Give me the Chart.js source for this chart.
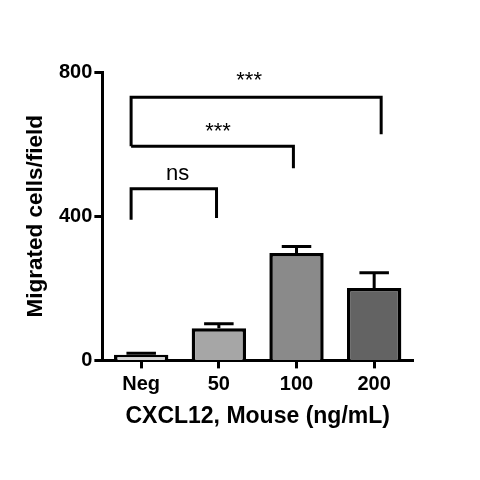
<!DOCTYPE html>
<html>
<head>
<meta charset="utf-8">
<script src="https://cdn.jsdelivr.net/npm/chart.js@4/dist/chart.umd.min.js"></script>
<style>
html,body{margin:0;padding:0;background:#fff;}
#wrap{width:480px;height:480px;}
</style>
</head>
<body>
<div id="wrap"><canvas id="c" width="480" height="480"></canvas></div>
<script>
// ---- data ----
const categories = ['Neg', '50', '100', '200'];
const means = [16, 89, 298, 201];
const errUpper = [20, 102, 316, 243];
const barColors = ['#d6d6d6', '#a6a6a6', '#8a8a8a', '#636363'];
const yTicks = [0, 400, 800];

// significance brackets (x in category index units)
const bracketStart = [-0.13, -0.13, -0.13];
const bracketEnd = [0.97, 1.96, 3.09];
const bracketLevel = [476, 594, 730];
const bracketLeftBase = [390, 594, 594];
const bracketRightBase = [395, 533, 627];
const sigLabels = ['ns', '***', '***'];
const sigX = [0.47, 0.99, 1.39];
const sigY = [518, 634, 776];

const capHalf = 0.19;

const annotations = {
  id: 'annotations',
  afterDatasetsDraw(chart) {
    const ctx = chart.ctx, xs = chart.scales.x, ys = chart.scales.y;
    ctx.save();
    ctx.strokeStyle = '#000';
    ctx.lineWidth = 3;
    ctx.lineCap = 'butt';
    ctx.lineJoin = 'miter';
    // error bars (upper only)
    means.forEach((m, i) => {
      const px = xs.getPixelForValue(i);
      const pTop = ys.getPixelForValue(errUpper[i]);
      ctx.beginPath();
      ctx.moveTo(px, ys.getPixelForValue(m));
      ctx.lineTo(px, pTop);
      ctx.moveTo(xs.getPixelForValue(i - capHalf), pTop);
      ctx.lineTo(xs.getPixelForValue(i + capHalf), pTop);
      ctx.stroke();
    });
    // brackets
    bracketStart.forEach((s, k) => {
      ctx.beginPath();
      ctx.moveTo(xs.getPixelForValue(s), ys.getPixelForValue(bracketLeftBase[k]));
      ctx.lineTo(xs.getPixelForValue(s), ys.getPixelForValue(bracketLevel[k]));
      ctx.lineTo(xs.getPixelForValue(bracketEnd[k]), ys.getPixelForValue(bracketLevel[k]));
      ctx.lineTo(xs.getPixelForValue(bracketEnd[k]), ys.getPixelForValue(bracketRightBase[k]));
      ctx.stroke();
    });
    // labels
    ctx.fillStyle = '#000';
    ctx.textAlign = 'center';
    ctx.textBaseline = 'middle';
    ctx.font = "22px 'Liberation Sans', Arial, sans-serif";
    sigLabels.forEach((t, k) => {
      ctx.fillText(t, xs.getPixelForValue(sigX[k]), ys.getPixelForValue(sigY[k]));
    });
    ctx.restore();
  }
};

Chart.defaults.font.family = "'Liberation Sans', Arial, sans-serif";
Chart.defaults.color = '#000';

new Chart(document.getElementById('c'), {
  type: 'bar',
  data: {
    labels: categories,
    datasets: [{
      data: means, backgroundColor: barColors, borderColor: '#000',
      borderWidth: 3.5, categoryPercentage: 1, barPercentage: 0.7
    }]
  },
  options: {
    responsive: false,
    animation: false,
    devicePixelRatio: 1,
    layout: {padding: {left: 18, right: 67, top: 72, bottom: 46}},
    plugins: {legend: {display: false}, tooltip: {enabled: false}},
    scales: {
      x: {
        type: 'category', offset: true,
        grid: {display: true, drawOnChartArea: false, offset: false, tickLength: 8, tickWidth: 3, tickColor: '#000'},
        border: {display: true, color: '#000', width: 3},
        ticks: {font: {size: 20, weight: 'bold'}, color: '#000', padding: 4},
        title: {display: true, text: 'CXCL12, Mouse (ng/mL)', font: {size: 23, weight: 'bold'}, color: '#000', padding: {top: 2}}
      },
      y: {
        type: 'linear', min: 0, max: 800,
        afterBuildTicks(axis) { axis.ticks = yTicks.map(v => ({value: v})); },
        grid: {display: true, drawOnChartArea: false, tickLength: 8, tickWidth: 3, tickColor: '#000'},
        border: {display: true, color: '#000', width: 3},
        ticks: {font: {size: 20, weight: 'bold'}, color: '#000', padding: 2},
        title: {display: true, text: 'Migrated cells/field', font: {size: 22.5, weight: 'bold'}, color: '#000', padding: {bottom: 8}}
      }
    }
  },
  plugins: [annotations]
});
</script>
</body>
</html>
